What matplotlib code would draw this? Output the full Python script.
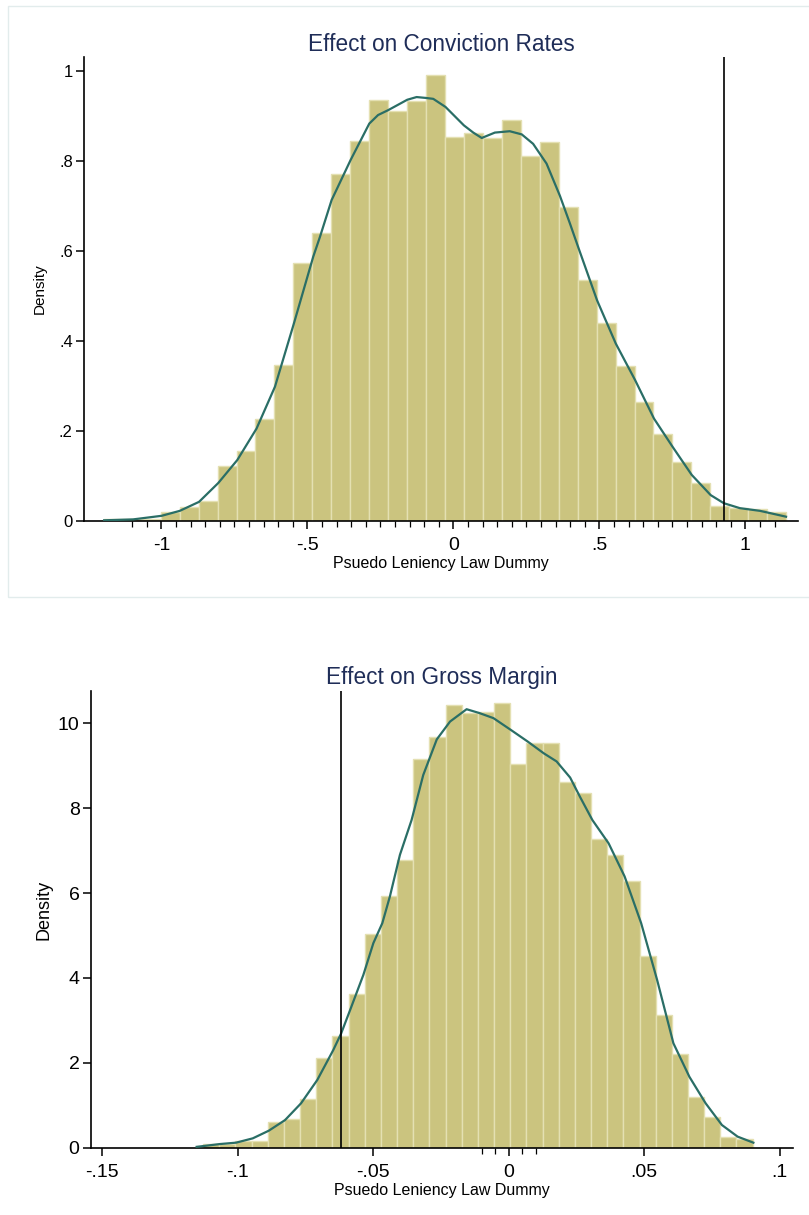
import numpy as np
import matplotlib.pyplot as plt
from matplotlib.patches import Rectangle

plt.rcParams['font.family'] = ['Liberation Sans', 'DejaVu Sans']

# top panel: conviction rates histogram (density per bin)
conv_bin_start = -1.197
conv_bin_width = 0.0649
conv_density = [0.003, 0.003, 0.005, 0.020, 0.030, 0.044, 0.122, 0.156, 0.227, 0.347,
                0.572, 0.639, 0.770, 0.844, 0.936, 0.910, 0.933, 0.990, 0.853, 0.861,
                0.851, 0.890, 0.810, 0.841, 0.698, 0.535, 0.439, 0.344, 0.263, 0.193,
                0.131, 0.083, 0.033, 0.029, 0.026, 0.019]
conv_kx = [-1.196, -1.097, -0.999, -0.937, -0.871, -0.805, -0.740, -0.674, -0.611, -0.546,
           -0.480, -0.457, -0.417, -0.352, -0.288, -0.258, -0.223, -0.158, -0.126, -0.094,
           -0.069, -0.027, 0.036, 0.068, 0.097, 0.142, 0.193, 0.234, 0.273, 0.319,
           0.365, 0.399, 0.427, 0.492, 0.556, 0.622, 0.687, 0.751, 0.816, 0.881,
           0.926, 0.981, 1.050, 1.139]
conv_ky = [0.001, 0.003, 0.011, 0.022, 0.042, 0.084, 0.135, 0.205, 0.298, 0.439,
           0.587, 0.631, 0.713, 0.802, 0.883, 0.902, 0.913, 0.936, 0.942, 0.940,
           0.938, 0.920, 0.879, 0.863, 0.851, 0.863, 0.866, 0.859, 0.838, 0.794,
           0.722, 0.661, 0.609, 0.490, 0.394, 0.313, 0.227, 0.164, 0.102, 0.057,
           0.039, 0.028, 0.022, 0.009]
conv_actual = 0.927

# bottom panel: gross margin
gm_bin_start = -0.1127
gm_bin_width = 0.005963
gm_density = [0.09, 0.09, 0.16, 0.15, 0.60, 0.67, 1.14, 2.12, 2.63, 3.62,
              5.03, 5.92, 6.78, 9.16, 9.67, 10.42, 10.25, 10.26, 10.47, 9.03,
              9.54, 9.54, 8.61, 8.35, 7.27, 6.89, 6.29, 4.52, 3.13, 2.20,
              1.19, 0.72, 0.25, 0.21]
gm_kx = [-0.1151, -0.1065, -0.1006, -0.0944, -0.0885, -0.0825, -0.0766, -0.0706, -0.0647, -0.0618,
         -0.0585, -0.0536, -0.0499, -0.0466, -0.0438, -0.0401, -0.0358, -0.0315, -0.0265, -0.0216,
         -0.0155, -0.0108, -0.0056, 0.0011, 0.0070, 0.0130, 0.0177, 0.0227, 0.0263, 0.0309,
         0.0369, 0.0428, 0.0489, 0.0548, 0.0608, 0.0667, 0.0727, 0.0787, 0.0845, 0.0903]
gm_ky = [0.02, 0.086, 0.118, 0.22, 0.40, 0.65, 1.045, 1.595, 2.30, 2.69,
         3.24, 4.07, 4.82, 5.29, 5.92, 6.90, 7.72, 8.78, 9.62, 10.04,
         10.33, 10.24, 10.12, 9.83, 9.57, 9.29, 9.10, 8.72, 8.27, 7.72,
         7.17, 6.39, 5.29, 3.95, 2.46, 1.67, 1.045, 0.534, 0.26, 0.118]
gm_actual = -0.0618

conv_xticks = [-1, -0.5, 0, 0.5, 1]
conv_xlabels = ['-1', '-.5', '0', '.5', '1']
conv_yticks = [0, 0.2, 0.4, 0.6, 0.8, 1]
conv_ylabels = ['0', '.2', '.4', '.6', '.8', '1']
gm_xticks = [-0.15, -0.1, -0.05, 0, 0.05, 0.1]
gm_xlabels = ['-.15', '-.1', '-.05', '0', '.05', '.1']
gm_yticks = [0, 2, 4, 6, 8, 10]
gm_ylabels = ['0', '2', '4', '6', '8', '10']

bar_col = '#cbc47f'
edge_col = '#e4e0b2'
line_col = '#2a6e66'
title_col = '#1f2d58'

fig = plt.figure(figsize=(8.09, 12.15), dpi=100)
fig.patches.append(Rectangle((0.0103, 0.5089), 1.0, 0.4862, transform=fig.transFigure,
                             fill=False, edgecolor='#e2ecec', linewidth=1.0))

ax1 = fig.add_axes([0.1038, 0.5714, 0.8826, 0.3813])
ax2 = fig.add_axes([0.1121, 0.0554, 0.8677, 0.3759])


def panel(ax, start, w, dens, kx, ky, actual, title, xlim, ylim,
          xt, xl, yt, yl, minor, ysize, ylab_size):
    n = len(dens)
    lefts = [start + i * w for i in range(n)]
    ax.bar(lefts, dens, width=w, align='edge', color=bar_col,
           edgecolor=edge_col, linewidth=1.0, zorder=1)
    ax.plot(kx, ky, color=line_col, lw=1.6, zorder=3)
    ax.axvline(actual, color='black', lw=1.2, zorder=4)
    ax.set_xlim(xlim)
    ax.set_ylim(ylim)
    ax.set_xticks(xt)
    ax.set_xticklabels(xl, fontsize=14)
    ax.set_xticks(minor, minor=True)
    ax.set_yticks(yt)
    ax.set_yticklabels(yl, fontsize=ysize)
    ax.tick_params(axis='x', which='major', length=6, width=1.1, pad=6)
    ax.tick_params(axis='x', which='minor', length=4, width=0.9)
    ax.tick_params(axis='y', length=6, width=1.1, pad=2)
    for s in ['top', 'right']:
        ax.spines[s].set_visible(False)
    for s in ['left', 'bottom']:
        ax.spines[s].set_linewidth(1.2)
    ax.set_title(title, fontsize=16.3, color=title_col, pad=5)
    ax.set_xlabel('Psuedo Leniency Law Dummy', fontsize=11.5, labelpad=1)
    ax.set_ylabel('Density', fontsize=ylab_size)


conv_minor = [round(v, 2) for v in np.arange(-1.1, 1.101, 0.05)]
panel(ax1, conv_bin_start, conv_bin_width, conv_density, conv_kx, conv_ky, conv_actual,
      'Effect on Conviction Rates', (-1.265, 1.180), (0, 1.03),
      conv_xticks, conv_xlabels, conv_yticks, conv_ylabels, conv_minor, 12, 11)
ax1.yaxis.set_label_coords(-0.052, 0.5)

panel(ax2, gm_bin_start, gm_bin_width, gm_density, gm_kx, gm_ky, gm_actual,
      'Effect on Gross Margin', (-0.1542, 0.1048), (0, 10.76),
      gm_xticks, gm_xlabels, gm_yticks, gm_ylabels, [-0.01, -0.005, 0.005, 0.01], 14, 13)
ax2.yaxis.set_label_coords(-0.055, 0.52)

fig.savefig('out.png', dpi=100)
